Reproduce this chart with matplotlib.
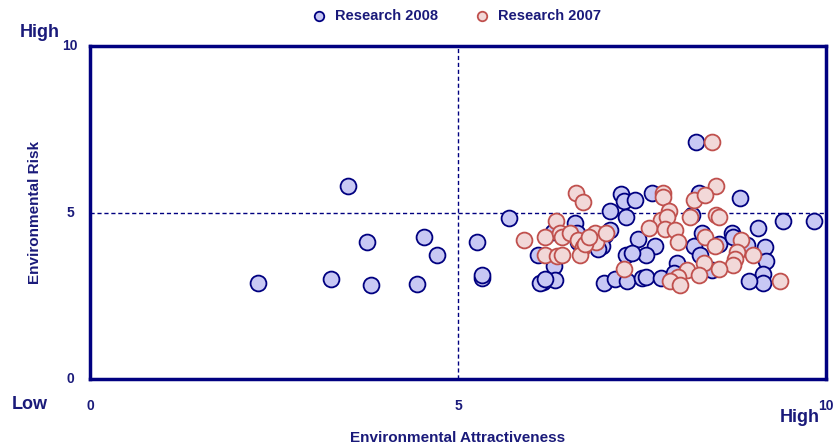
import matplotlib
matplotlib.use("Agg")
import matplotlib.pyplot as plt
from matplotlib import font_manager

# Research 2008 (blue)
x2008 = [2.28, 3.27, 3.51, 3.76, 3.82, 4.44, 4.54, 4.71, 5.26, 5.33, 5.33, 5.69,
         8.24, 7.22, 7.25, 7.40, 7.64, 7.06, 7.28, 6.59, 6.29, 7.07, 7.00, 7.45,
         7.68, 7.56, 7.28, 7.37, 6.09, 6.30, 6.16, 6.11, 6.32, 6.18, 6.98, 7.13,
         7.29, 7.50, 7.55, 7.76, 7.97, 7.93, 8.20, 8.31, 8.29, 8.45, 8.54, 8.28,
         8.18, 8.72, 8.74, 8.92, 8.83, 9.07, 9.17, 9.19, 9.15, 9.14, 8.96, 9.41,
         9.83, 6.61, 6.63, 6.93, 6.95, 6.90]
y2008 = [2.88, 3.00, 5.80, 4.11, 2.82, 2.85, 4.26, 3.72, 4.11, 3.03, 3.12, 4.83,
         7.11, 5.56, 5.35, 5.38, 5.59, 5.04, 4.87, 4.68, 4.42, 4.47, 4.32, 4.20,
         3.99, 3.72, 3.72, 3.79, 3.72, 3.40, 2.90, 2.87, 2.97, 3.00, 2.87, 3.00,
         2.94, 3.02, 3.07, 3.04, 3.49, 3.17, 3.99, 4.38, 3.72, 3.27, 4.05, 5.59,
         4.92, 4.38, 4.27, 4.02, 5.45, 4.53, 3.97, 3.55, 3.15, 2.87, 2.94, 4.74,
         4.74, 4.38, 4.12, 4.15, 4.00, 3.90]

# Research 2007 (pink)
x2007 = [8.45, 8.51, 6.60, 6.70, 7.78, 7.78, 8.21, 8.36, 7.86, 8.15, 8.51, 8.55,
         6.33, 7.76, 7.84, 7.60, 7.81, 7.95, 5.89, 6.18, 6.39, 6.41, 6.52, 6.63,
         6.70, 6.86, 6.88, 7.01, 6.18, 6.34, 6.41, 6.66, 7.99, 8.36, 8.49, 8.85,
         8.79, 8.76, 9.01, 8.73, 8.34, 8.54, 8.11, 8.27, 7.25, 7.99, 7.88, 8.01,
         9.38, 6.72, 6.78]
y2007 = [7.11, 5.80, 5.58, 5.32, 5.58, 5.46, 5.38, 5.53, 5.05, 4.87, 4.92, 4.85,
         4.74, 4.77, 4.87, 4.53, 4.50, 4.47, 4.17, 4.26, 4.38, 4.26, 4.39, 4.17,
         3.97, 4.39, 4.12, 4.37, 3.72, 3.69, 3.72, 3.72, 4.10, 4.27, 3.99, 4.17,
         3.82, 3.59, 3.72, 3.42, 3.49, 3.30, 3.27, 3.12, 3.30, 3.07, 2.94, 2.82,
         2.94, 4.05, 4.25]

navy = "#000080"
txt = "#1a1a7a"

names = {f.name for f in font_manager.fontManager.ttflist}
plt.rcParams["font.family"] = ["Liberation Sans Narrow" if "Liberation Sans Narrow" in names else "Liberation Sans", "DejaVu Sans"]
plt.rcParams["font.weight"] = "bold"

fig = plt.figure(figsize=(8.38, 4.47), dpi=100)
ax = fig.add_axes([0.1074, 0.1521, 0.8783, 0.7450])

ax.axvline(5, color=navy, lw=1, ls=(0, (3, 2)), zorder=1)
ax.axhline(5, color=navy, lw=1, ls=(0, (3, 2)), zorder=1)

ax.scatter(x2008, y2008, s=130, facecolor="#c8c8f4", edgecolor=navy, lw=1.3, zorder=3,
           label="Research 2008")
ax.scatter(x2007, y2007, s=130, facecolor="#f2d8d8", edgecolor="#c0504d", lw=1.3, zorder=4,
           label="Research 2007")

ax.set_xlim(0, 10)
ax.set_ylim(0, 10)
for sp in ax.spines.values():
    sp.set_color(navy)
    sp.set_linewidth(2.5)
ax.set_xticks([])
ax.set_yticks([])

# tick labels
for v in [0, 5, 10]:
    ax.text(v, -0.8, str(v), ha="center", va="center", fontsize=10, color=txt)
    ax.text(-0.27, v, str(v), ha="center", va="center", fontsize=10, color=txt)

ax.text(-0.41, 10.4, "High", ha="right", va="center", fontsize=13, color=txt)
ax.text(-0.82, -0.76, "Low", ha="center", va="center", fontsize=13, color=txt)
ax.text(9.92, -1.17, "High", ha="right", va="center", fontsize=13, color=txt)

ax.text(5, -1.77, "Environmental Attractiveness", ha="center", va="center",
        fontsize=11, color=txt)
ax.text(-0.75, 5, "Environmental Risk", ha="center", va="center", rotation=90,
        fontsize=11, color=txt)

leg = fig.legend(loc="upper center", bbox_to_anchor=(0.54, 1.01), ncol=2, frameon=False,
                 fontsize=10.5, handletextpad=0.1, columnspacing=2.0, markerscale=0.6,
                 scatterpoints=1)
for t in leg.get_texts():
    t.set_color(txt)

fig.savefig("out.png", dpi=100)
